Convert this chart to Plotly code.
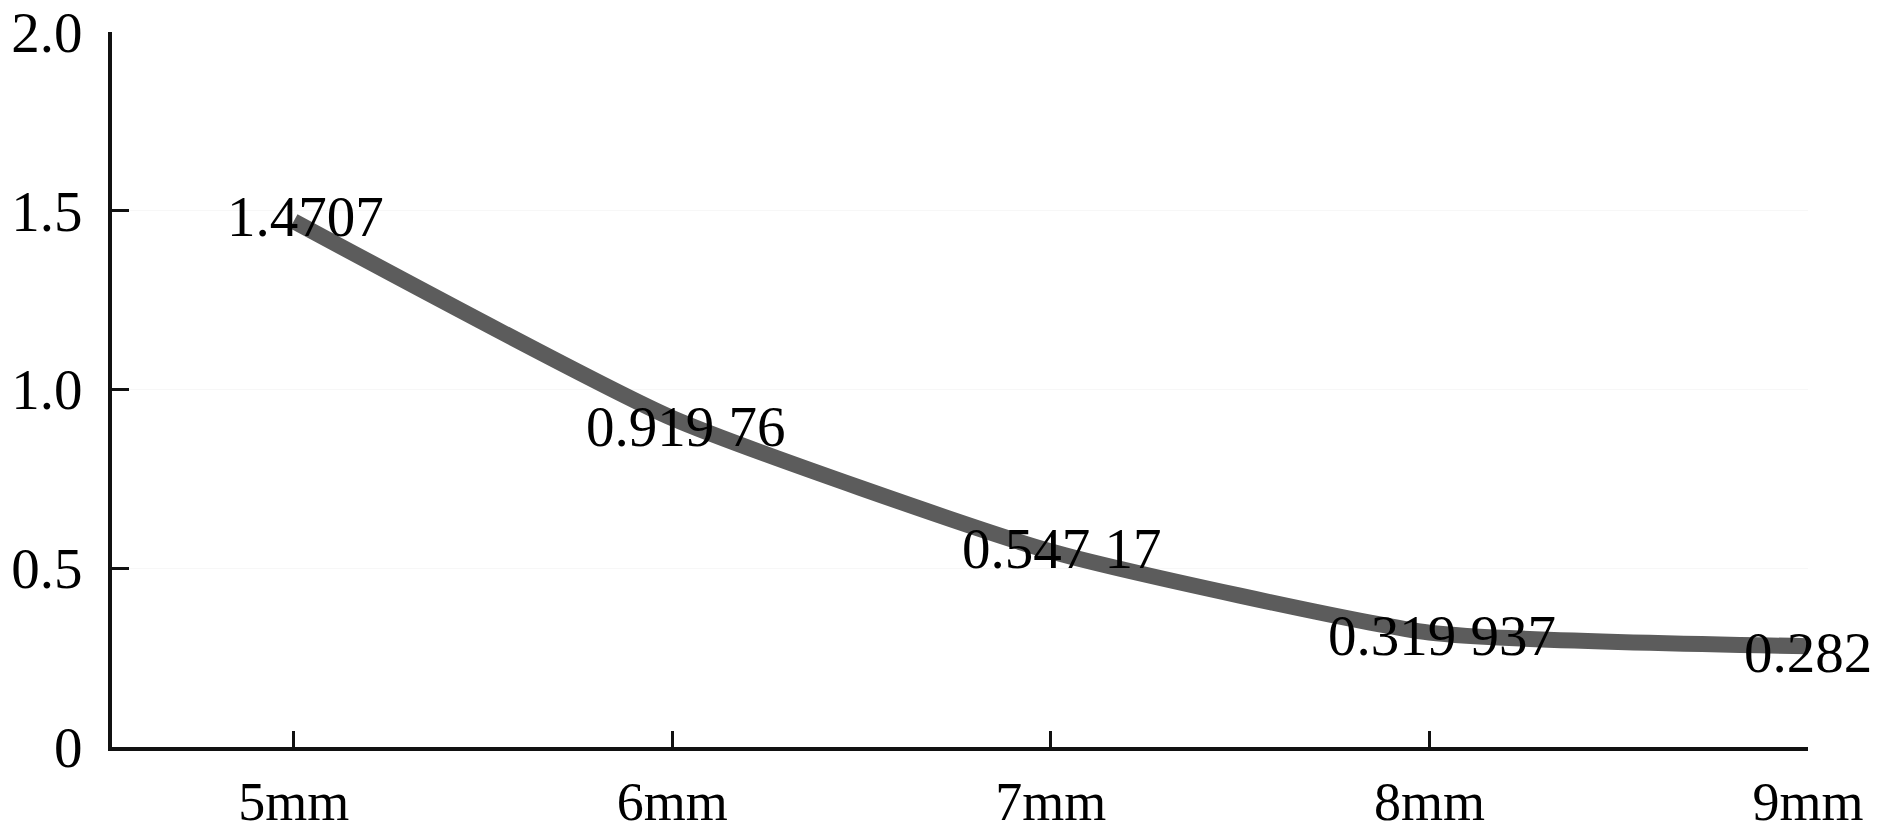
import plotly.graph_objects as go

categories = ["5mm", "6mm", "7mm", "8mm", "9mm"]
values = [1.4707, 0.91976, 0.54717, 0.319937, 0.282]
value_labels = ["1.4707", "0.919 76", "0.547 17", "0.319 937", "0.282"]
y_tickvals = [0, 0.5, 1.0, 1.5, 2.0]
y_ticktext = ["0", "0.5", "1.0", "1.5", "2.0"]

# label offsets in pixels (style only)
label_xshift = [12, 14, 11, 13, 0]
label_yshift = [5, -8, 3, -3, -6]

FONT = "Liberation Serif, Times New Roman, serif"
AXIS_COLOR = "#111111"

fig = go.Figure()
fig.add_trace(go.Scatter(
    x=list(range(len(categories))),
    y=values,
    mode="lines",
    line=dict(color="#5c5c5c", width=16, shape="spline", smoothing=0.5),
    hoverinfo="skip",
    showlegend=False,
))

for i, (v, t) in enumerate(zip(values, value_labels)):
    fig.add_annotation(
        x=i, y=v, text=t, showarrow=False,
        xshift=label_xshift[i], yshift=label_yshift[i],
        font=dict(family=FONT, size=57, color="#000000"),
    )

fig.update_layout(
    width=1890, height=831,
    margin=dict(l=112, r=82, t=32, b=84, autoexpand=False),
    paper_bgcolor="white", plot_bgcolor="white",
    font=dict(family=FONT, size=56, color="#000000"),
    showlegend=False,
)
fig.update_xaxes(
    automargin=False,
    range=[-0.48, 4],
    tickvals=list(range(len(categories))), ticktext=categories,
    showline=True, linecolor=AXIS_COLOR, linewidth=4,
    ticks="inside", ticklen=16, tickwidth=3, tickcolor=AXIS_COLOR,
    showgrid=False, zeroline=False,
    tickfont=dict(family=FONT, size=54, color="#000000"),
    ticklabelstandoff=4,
)
fig.update_yaxes(
    automargin=False,
    range=[0, 2.0],
    tickvals=y_tickvals, ticktext=y_ticktext,
    showline=True, linecolor=AXIS_COLOR, linewidth=4,
    ticks="inside", ticklen=17, tickwidth=3, tickcolor=AXIS_COLOR,
    showgrid=True, gridcolor="#f7f7f7", gridwidth=1,
    zeroline=False,
    tickfont=dict(family=FONT, size=57, color="#000000"),
    ticklabelstandoff=14,
    ticklabeloverflow="allow",
)

fig.write_html(
    "out.html",
    config={"displayModeBar": False},
    post_script="document.body.style.margin='0';",
)
